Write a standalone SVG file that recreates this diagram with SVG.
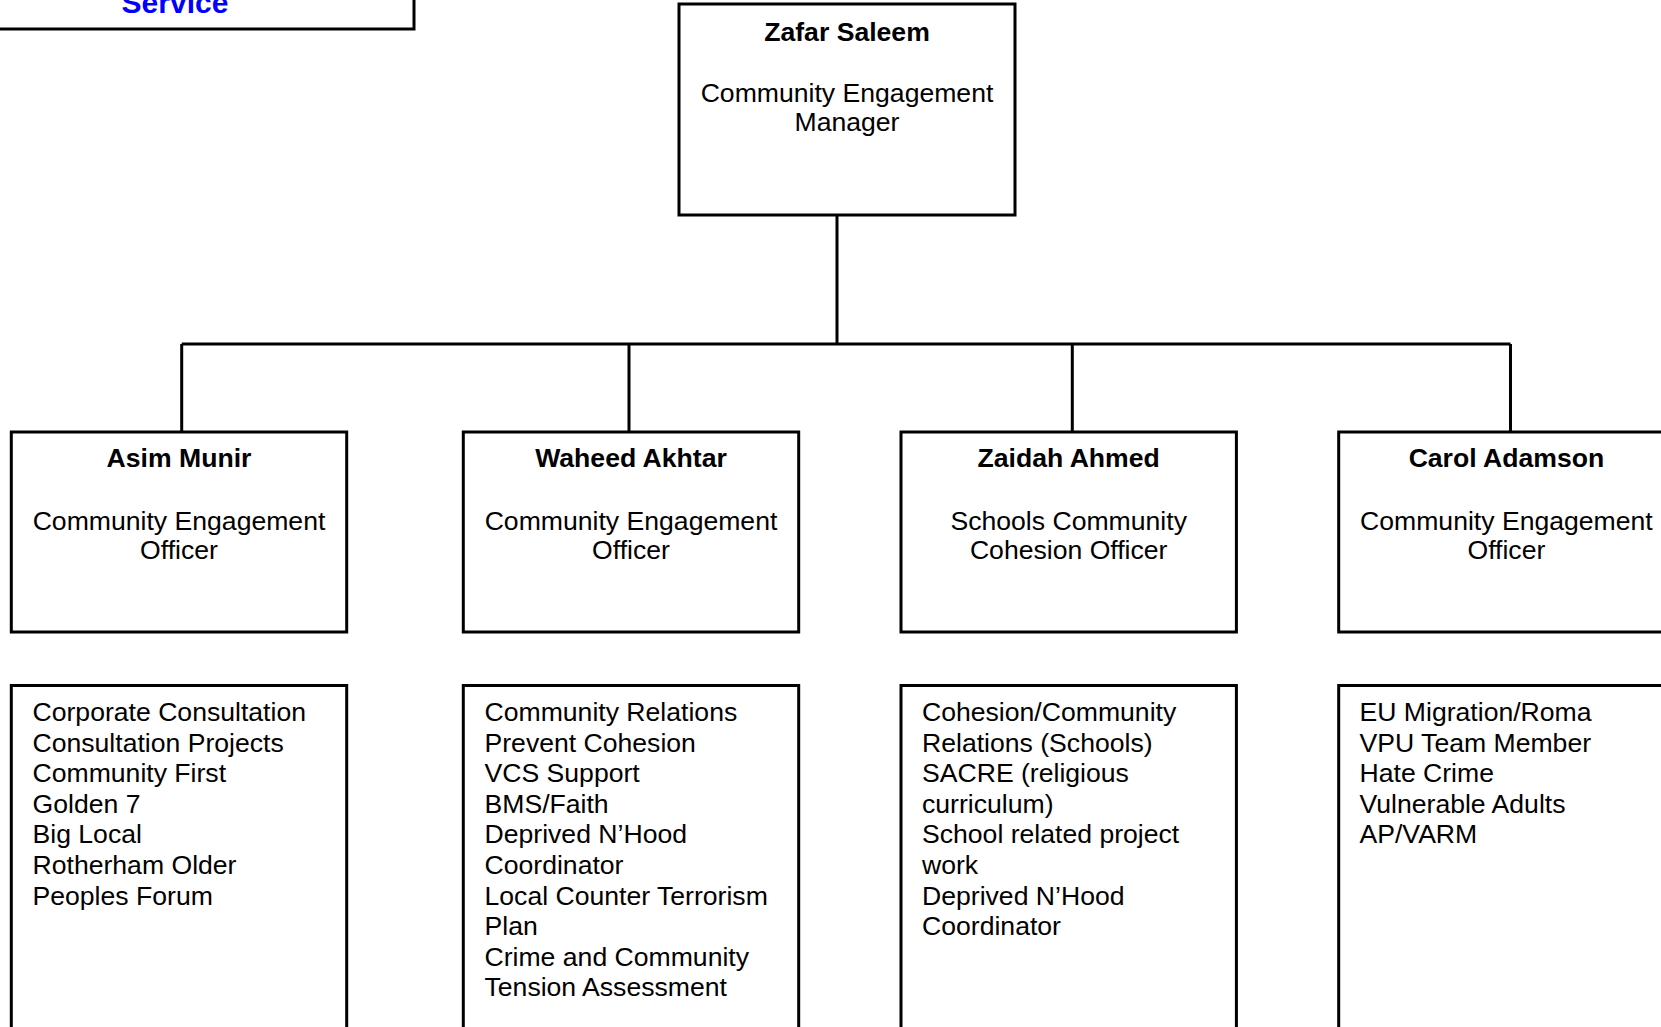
<svg xmlns="http://www.w3.org/2000/svg" width="1661" height="1027" viewBox="0 0 1661 1027">
<style>
.box{fill:#fff;stroke:#000;stroke-width:3}
.con{fill:none;stroke:#000;stroke-width:3}
.nm{font-family:"Liberation Sans",Arial,sans-serif;font-size:26.6px;font-weight:bold;text-anchor:middle;fill:#000}
.rl{font-family:"Liberation Sans",Arial,sans-serif;font-size:26.6px;text-anchor:middle;fill:#000}
.ls{font-family:"Liberation Sans",Arial,sans-serif;font-size:26.6px;fill:#000}
.svc{font-family:"Liberation Sans",Arial,sans-serif;font-size:30px;font-weight:bold;text-anchor:middle;fill:#0000ff}
</style>
<rect width="1661" height="1027" fill="#fff"/>
<g id="connectors">
<path class="con" d="M837 215V344M181.7 344H1510.5M181.7 344V432M629 344V432M1072.3 344V432M1510.5 344V432"/>
</g>
<g id="service">
<rect class="box" x="-70" y="-20" width="484" height="49"/>
<text class="svc" x="175" y="13">Service</text>
</g>
<g id="manager">
<rect class="box" x="679" y="4" width="336" height="211"/>
<text class="nm" x="847" y="41">Zafar Saleem</text>
<text class="rl" x="847" y="102">Community Engagement</text>
<text class="rl" x="847" y="131">Manager</text>
</g>
<g id="asim">
<rect class="box" x="11.3" y="432" width="335.4" height="200"/>
<text class="nm" x="179" y="466.5">Asim Munir</text>
<text class="rl" x="179" y="530">Community Engagement</text>
<text class="rl" x="179" y="559">Officer</text>
</g>
<g id="waheed">
<rect class="box" x="463.3" y="432" width="335.4" height="200"/>
<text class="nm" x="631" y="466.5">Waheed Akhtar</text>
<text class="rl" x="631" y="530">Community Engagement</text>
<text class="rl" x="631" y="559">Officer</text>
</g>
<g id="zaidah">
<rect class="box" x="901" y="432" width="335.4" height="200"/>
<text class="nm" x="1068.7" y="466.5">Zaidah Ahmed</text>
<text class="rl" x="1068.7" y="530">Schools Community</text>
<text class="rl" x="1068.7" y="559">Cohesion Officer</text>
</g>
<g id="carol">
<rect class="box" x="1338.7" y="432" width="335.4" height="200"/>
<text class="nm" x="1506.4" y="466.5">Carol Adamson</text>
<text class="rl" x="1506.4" y="530">Community Engagement</text>
<text class="rl" x="1506.4" y="559">Officer</text>
</g>
<g id="asim-duties">
<rect class="box" x="11.3" y="685.5" width="335.4" height="400"/>
<text class="ls" x="32.5">
<tspan x="32.5" y="721">Corporate Consultation</tspan>
<tspan x="32.5" y="751.6">Consultation Projects</tspan>
<tspan x="32.5" y="782.2">Community First</tspan>
<tspan x="32.5" y="812.8">Golden 7</tspan>
<tspan x="32.5" y="843.4">Big Local</tspan>
<tspan x="32.5" y="874">Rotherham Older</tspan>
<tspan x="32.5" y="904.6">Peoples Forum</tspan>
</text>
</g>
<g id="waheed-duties">
<rect class="box" x="463.3" y="685.5" width="335.4" height="400"/>
<text class="ls" x="484.5">
<tspan x="484.5" y="721">Community Relations</tspan>
<tspan x="484.5" y="751.6">Prevent Cohesion</tspan>
<tspan x="484.5" y="782.2">VCS Support</tspan>
<tspan x="484.5" y="812.8">BMS/Faith</tspan>
<tspan x="484.5" y="843.4">Deprived N’Hood</tspan>
<tspan x="484.5" y="874">Coordinator</tspan>
<tspan x="484.5" y="904.6">Local Counter Terrorism</tspan>
<tspan x="484.5" y="935.2">Plan</tspan>
<tspan x="484.5" y="965.8">Crime and Community</tspan>
<tspan x="484.5" y="996.4">Tension Assessment</tspan>
</text>
</g>
<g id="zaidah-duties">
<rect class="box" x="901" y="685.5" width="335.4" height="400"/>
<text class="ls" x="922">
<tspan x="922" y="721">Cohesion/Community</tspan>
<tspan x="922" y="751.6">Relations (Schools)</tspan>
<tspan x="922" y="782.2">SACRE (religious</tspan>
<tspan x="922" y="812.8">curriculum)</tspan>
<tspan x="922" y="843.4">School related project</tspan>
<tspan x="922" y="874">work</tspan>
<tspan x="922" y="904.6">Deprived N’Hood</tspan>
<tspan x="922" y="935.2">Coordinator</tspan>
</text>
</g>
<g id="carol-duties">
<rect class="box" x="1338.7" y="685.5" width="335.4" height="400"/>
<text class="ls" x="1359.5">
<tspan x="1359.5" y="721">EU Migration/Roma</tspan>
<tspan x="1359.5" y="751.6">VPU Team Member</tspan>
<tspan x="1359.5" y="782.2">Hate Crime</tspan>
<tspan x="1359.5" y="812.8">Vulnerable Adults</tspan>
<tspan x="1359.5" y="843.4">AP/VARM</tspan>
</text>
</g>
</svg>
